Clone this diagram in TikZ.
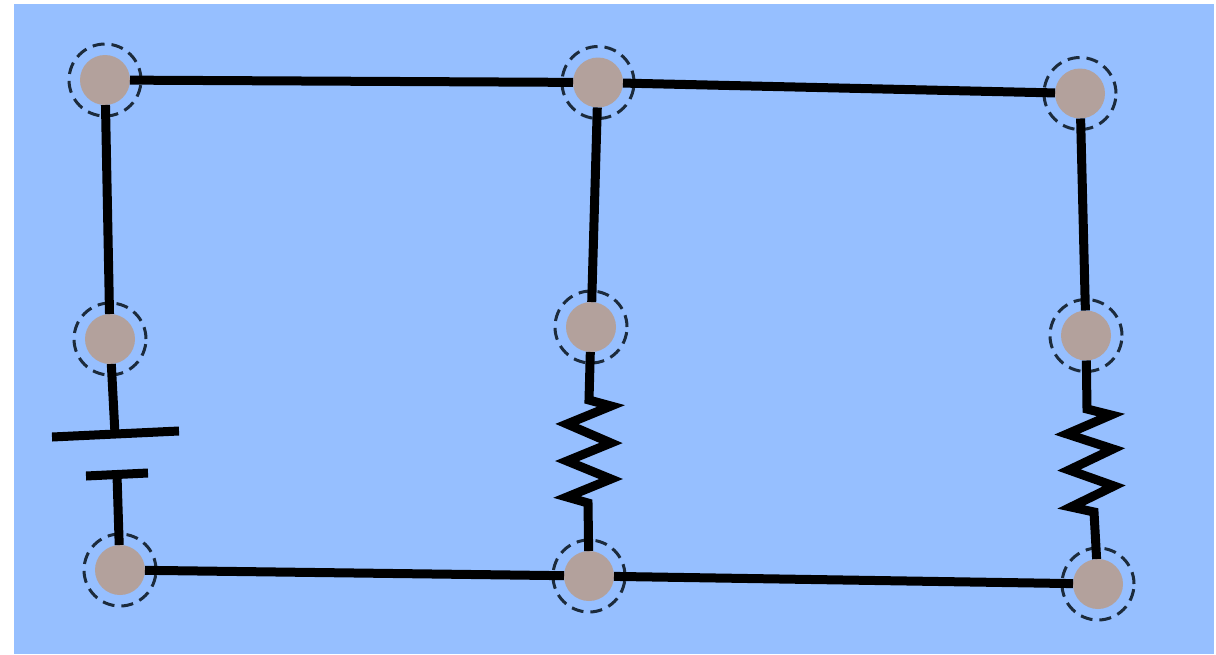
\documentclass[tikz,border=0pt]{standalone}
\usepackage{xcolor}
\usepackage{tikz}
\definecolor{panelblue}{HTML}{96BFFF}
\definecolor{jointbrown}{HTML}{B3A19C}
\definecolor{ringdark}{HTML}{1C2B3C}
\tikzstyle{joint} = [circle, fill=jointbrown, minimum size=50pt, inner sep=0pt, outer sep=0pt]
\tikzstyle{ring} = [circle, draw=ringdark, line width=3pt, dash pattern=on 12pt off 7pt, minimum size=72pt, inner sep=0pt, outer sep=0pt]
\tikzstyle{wire} = [line width=9pt, black]

\begin{document}
\begin{tikzpicture}[x=1pt,y=-1pt]
        \useasboundingbox (0,0) rectangle (1216,654);
        \fill [panelblue] (14,4) rectangle (1214,654);
        \node (topleft) [joint] at (105,80) {};
        \node (topmid) [joint] at (598,82.5) {};
        \node (topright) [joint] at (1080,93.5) {};
        \node (midleft) [joint] at (110,339) {};
        \node (midmid) [joint] at (591,327) {};
        \node (midright) [joint] at (1086,335.5) {};
        \node (botleft) [joint] at (120,570) {};
        \node (botmid) [joint] at (589,576) {};
        \node (botright) [joint] at (1098,584) {};
        \node (ringa) [ring] at (topleft) {};
        \node (ringb) [ring] at (topmid) {};
        \node (ringc) [ring] at (topright) {};
        \node (ringd) [ring] at (midleft) {};
        \node (ringe) [ring] at (midmid) {};
        \node (ringf) [ring] at (midright) {};
        \node (ringg) [ring] at (botleft) {};
        \node (ringh) [ring] at (botmid) {};
        \node (ringi) [ring] at (botright) {};
        \draw [wire] (topleft) -- (topmid);
        \draw [wire] (topmid) -- (topright);
        \draw [wire] (topleft) -- (midleft);
        \draw [wire] (topmid) -- (midmid);
        \draw [wire] (topright) -- (midright);
        \draw [wire] (botleft) -- (botmid);
        \draw [wire] (botmid) -- (botright);
        % battery
        \coordinate (longa) at (52,437);
        \coordinate (longb) at (179,431);
        \coordinate (shorta) at (86,476);
        \coordinate (shortb) at (148,473);
        \coordinate (longmid) at (115,434);
        \coordinate (shortmid) at (117,475);
        \draw [wire] (longa) -- (longb);
        \draw [wire] (shorta) -- (shortb);
        \draw [wire] (midleft) -- (longmid);
        \draw [wire] (botleft) -- (shortmid);
        % resistors
        \draw [wire] (midmid) -- (589,400) -- (611,406) -- (567,424) -- (611,443) -- (567,461) -- (611,479) -- (567,497) -- (588,503) -- (botmid);
        \draw [wire] (midright) -- (1087,409) -- (1111,415) -- (1067,434) -- (1113,449) -- (1069,470) -- (1114,486) -- (1071,507) -- (1094,512) -- (botright);
    \end{tikzpicture}
\end{document}
